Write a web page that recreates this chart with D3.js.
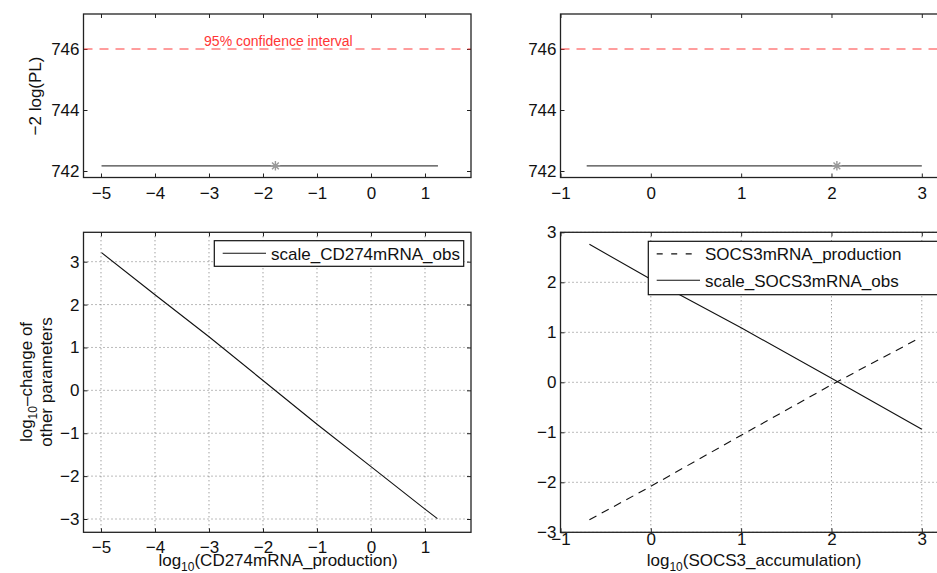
<!DOCTYPE html>
<html>
<head>
<meta charset="utf-8">
<script src="https://cdn.jsdelivr.net/npm/d3@7/dist/d3.min.js"></script>
<style>
html,body{margin:0;padding:0;background:#fff;overflow:hidden;}
svg{display:block;font-family:"Liberation Sans",Arial,Helvetica,sans-serif;}
</style>
</head>
<body>
<svg id="chart" width="937" height="573"></svg>
<script>
// ---------- data ----------
// top-left: profile likelihood for CD274mRNA_production
const plX1 = [-4.99, -4, -3, -2, -1.77, -1, 0, 1, 1.24];
const plY1 = [742.17, 742.17, 742.17, 742.17, 742.17, 742.17, 742.17, 742.17, 742.17];
const best1 = [-1.77, 742.17];
// top-right: profile likelihood for SOCS3_accumulation
const plX2 = [-0.71, 0, 1, 2, 2.06, 3.0];
const plY2 = [742.17, 742.17, 742.17, 742.17, 742.17, 742.17];
const best2 = [2.06, 742.17];
const ciLevel = 746.0;
const ciLabel = "95% confidence interval";

// bottom-left: change of other parameters
const chX1 = [-4.99, -4, -3, -2, -1, 0, 1, 1.23];
const chScaleCD274 = [3.21, 2.23, 1.25, 0.23, -0.79, -1.78, -2.77, -2.99];
// bottom-right
const chX2 = [-0.68, 0, 1, 2, 3.0];
const chScaleSOCS3 = [2.76, 2.06, 1.09, 0.08, -0.94];
const chX2b = [-0.68, 0, 1, 2, 2.97];
const chSOCS3prod = [-2.75, -2.08, -1.06, -0.05, 0.88];

// ticks
const xTicksL = [-5, -4, -3, -2, -1, 0, 1];
const xTicksR = [-1, 0, 1, 2, 3];
const yTicksTop = [742, 744, 746];
const yTicksBot = [-3, -2, -1, 0, 1, 2, 3];

// ---------- layout ----------
const svg = d3.select("#chart");
const FS = 17;
const fmt = d => (d < 0 ? "\u2212" + Math.abs(d) : String(d));

const panels = {
  tl: {x: d3.scaleLinear().domain([-5.324, 1.852]).range([83.5, 471]),
       y: d3.scaleLinear().domain([741.787, 747.148]).range([177.5, 14]),
       xt: xTicksL, yt: yTicksTop, pad: 9.5, grid: false},
  tr: {x: d3.scaleLinear().domain([-1, 3.29]).range([560.5, 948]),
       y: d3.scaleLinear().domain([741.787, 747.148]).range([177.5, 14]),
       xt: xTicksR, yt: yTicksTop, pad: 9.5, grid: false},
  bl: {x: d3.scaleLinear().domain([-5.324, 1.852]).range([83.5, 471]),
       y: d3.scaleLinear().domain([-3.31, 3.685]).range([532.3, 232.3]),
       xt: xTicksL, yt: yTicksBot, pad: 8.2, grid: true},
  br: {x: d3.scaleLinear().domain([-1, 3.29]).range([560.5, 948]),
       y: d3.scaleLinear().domain([-3, 3]).range([532.3, 232.3]),
       xt: xTicksR, yt: yTicksBot, pad: 0.7, grid: true}
};

function drawFrame(p) {
  const [x0, x1] = p.x.range(), [y1, y0] = p.y.range();
  const g = svg.append("g");
  // grid
  if (p.grid) {
    g.selectAll("line.gx").data(p.xt).join("line")
      .attr("x1", d => p.x(d)).attr("x2", d => p.x(d))
      .attr("y1", y0).attr("y2", y1)
      .attr("stroke", "#555").attr("stroke-width", 0.8).attr("stroke-dasharray", "1,3");
    g.selectAll("line.gy").data(p.yt).join("line")
      .attr("x1", x0).attr("x2", x1)
      .attr("y1", d => p.y(d)).attr("y2", d => p.y(d))
      .attr("stroke", "#555").attr("stroke-width", 0.8).attr("stroke-dasharray", "1,3");
  }
  // axes (ticks inward)
  const ax = [
    [d3.axisBottom(p.x).tickValues(p.xt).tickSize(-4).tickPadding(p.pad).tickFormat(fmt), `translate(0,${y1})`],
    [d3.axisTop(p.x).tickValues(p.xt).tickSize(-4).tickFormat(""), `translate(0,${y0})`],
    [d3.axisLeft(p.y).tickValues(p.yt).tickSize(-4).tickPadding(4).tickFormat(fmt), `translate(${x0},0)`],
    [d3.axisRight(p.y).tickValues(p.yt).tickSize(-4).tickFormat(""), `translate(${x1},0)`]
  ];
  ax.forEach(([a, t]) => {
    const ag = g.append("g").attr("transform", t).call(a);
    ag.select(".domain").remove();
    ag.selectAll("line").attr("stroke", "#222").attr("stroke-width", 1);
    ag.selectAll("text").attr("font-size", FS).attr("fill", "#111")
      .attr("font-family", '"Liberation Sans",Arial,sans-serif');
  });
  return g;
}

function frameRect(p) {
  const [x0, x1] = p.x.range(), [y1, y0] = p.y.range();
  svg.append("rect").attr("x", x0).attr("y", y0).attr("width", x1 - x0).attr("height", y1 - y0)
    .attr("fill", "none").attr("stroke", "#222").attr("stroke-width", 1.3);
}

function asterisk(p, pt) {
  const cx = p.x(pt[0]), cy = p.y(pt[1]), r = 4.8;
  const path = d3.path();
  for (let k = 0; k < 4; k++) {
    const a = k * Math.PI / 4;
    path.moveTo(cx - r * Math.cos(a), cy - r * Math.sin(a));
    path.lineTo(cx + r * Math.cos(a), cy + r * Math.sin(a));
  }
  svg.append("path").attr("d", path.toString()).attr("stroke", "#999").attr("stroke-width", 1.4).attr("fill", "none");
}

// ---------- top panels ----------
["tl", "tr"].forEach((k, i) => {
  const p = panels[k];
  drawFrame(p);
  const [x0, x1] = p.x.range();
  svg.append("line").attr("x1", x0).attr("x2", x1)
    .attr("y1", p.y(ciLevel)).attr("y2", p.y(ciLevel))
    .attr("stroke", "#ff3b3b").attr("stroke-width", 1).attr("stroke-dasharray", "9,7");
  const xs = i === 0 ? plX1 : plX2, ys = i === 0 ? plY1 : plY2;
  const line = d3.line().x((d, j) => p.x(xs[j])).y((d, j) => p.y(ys[j]));
  svg.append("path").attr("d", line(xs)).attr("fill", "none").attr("stroke", "#444").attr("stroke-width", 1.3);
  asterisk(p, i === 0 ? best1 : best2);
  frameRect(p);
});
svg.append("text").attr("x", panels.tl.x(best1[0]) + 3).attr("y", panels.tl.y(ciLevel) - 3)
  .attr("text-anchor", "middle").attr("font-size", 14).attr("fill", "#ff3535").text(ciLabel);

// y label top-left
svg.append("text").attr("transform", "translate(41,96) rotate(-90)")
  .attr("text-anchor", "middle").attr("font-size", FS).attr("fill", "#111").text("\u22122 log(PL)");

// ---------- bottom panels ----------
const pBL = panels.bl, pBR = panels.br;
drawFrame(pBL);
svg.append("path")
  .attr("d", d3.line().x((d, j) => pBL.x(chX1[j])).y((d, j) => pBL.y(chScaleCD274[j]))(chX1))
  .attr("fill", "none").attr("stroke", "#111").attr("stroke-width", 1.1);
frameRect(pBL);

drawFrame(pBR);
svg.append("path")
  .attr("d", d3.line().x((d, j) => pBR.x(chX2b[j])).y((d, j) => pBR.y(chSOCS3prod[j]))(chX2b))
  .attr("fill", "none").attr("stroke", "#111").attr("stroke-width", 1.1).attr("stroke-dasharray", "8,6");
svg.append("path")
  .attr("d", d3.line().x((d, j) => pBR.x(chX2[j])).y((d, j) => pBR.y(chScaleSOCS3[j]))(chX2))
  .attr("fill", "none").attr("stroke", "#111").attr("stroke-width", 1.1);
frameRect(pBR);

// legends
function legend(x, y, w, entries) {
  const h = entries.length === 1 ? 25.6 : 53.4;
  svg.append("rect").attr("x", x).attr("y", y).attr("width", w).attr("height", h)
    .attr("fill", "#fff").attr("stroke", "#111").attr("stroke-width", 1.2);
  entries.forEach((e, i) => {
    const cy = y + 12.6 + i * 26.4;
    svg.append("line").attr("x1", x + 8.4).attr("x2", x + 51.7).attr("y1", cy).attr("y2", cy)
      .attr("stroke", "#111").attr("stroke-width", 1.1)
      .attr("stroke-dasharray", e.dash ? "6,8.5" : null);
    svg.append("text").attr("x", x + 56.7).attr("y", cy + 6.3).attr("font-size", FS).attr("fill", "#111").text(e.name);
  });
}
legend(214.3, 240.7, 249.4, [{name: "scale_CD274mRNA_obs", dash: false}]);
legend(648.3, 241.3, 300, [{name: "SOCS3mRNA_production", dash: true}, {name: "scale_SOCS3mRNA_obs", dash: false}]);

// axis labels
function xlabel(cx, main) {
  const t = svg.append("text").attr("x", cx).attr("y", 566).attr("text-anchor", "middle")
    .attr("font-size", FS).attr("fill", "#111");
  t.append("tspan").text("log");
  t.append("tspan").attr("font-size", 12).attr("dy", 5).text("10");
  t.append("tspan").attr("dy", -5).text("(" + main + ")");
}
xlabel(278, "CD274mRNA_production");
xlabel(754, "SOCS3_accumulation");

const yl = svg.append("text").attr("transform", "translate(32.3,382) rotate(-90)")
  .attr("text-anchor", "middle").attr("font-size", FS).attr("fill", "#111");
yl.append("tspan").text("log");
yl.append("tspan").attr("font-size", 12).attr("dy", 5).text("10");
yl.append("tspan").attr("dy", -5).text("\u2013change of");
svg.append("text").attr("transform", "translate(51.6,382) rotate(-90)")
  .attr("text-anchor", "middle").attr("font-size", FS).attr("fill", "#111").text("other parameters");
</script>
</body>
</html>
